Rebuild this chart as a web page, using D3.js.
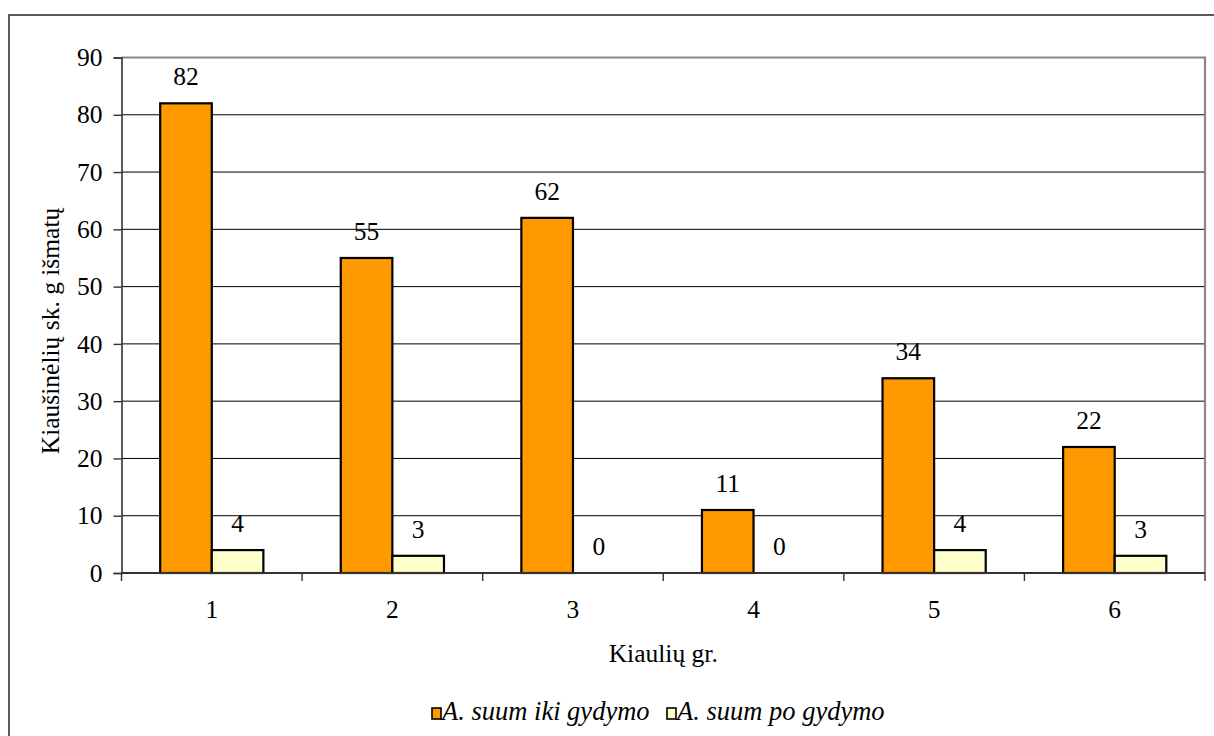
<!DOCTYPE html>
<html>
<head>
<meta charset="utf-8">
<script src="https://cdn.jsdelivr.net/npm/d3@7"></script>
<style>
  html, body { margin: 0; padding: 0; background: #fff; }
</style>
</head>
<body>
<svg id="chart" width="1214" height="736"></svg>
<script>
// Pig groups and A. suum egg counts per gram of faeces
const groups = ["1", "2", "3", "4", "5", "6"];
const beforeTreatment = [82, 55, 62, 11, 34, 22];
const afterTreatment = [4, 3, 0, 0, 4, 3];
const yTicks = [0, 10, 20, 30, 40, 50, 60, 70, 80, 90];
const seriesNames = ["A. suum iki gydymo", "A. suum po gydymo"];
const seriesColors = ["#FF9900", "#FFFFCC"];

const FONT = '"Liberation Serif"';
const FS = 25.5;
const LEGEND_FS = 26.5;

const svg = d3.select("#chart");
const plot = { left: 121.5, top: 57.5, right: 1205, bottom: 573 };

// outer frame
svg.append("rect")
  .attr("x", 9).attr("y", 15)
  .attr("width", 1230).attr("height", 760)
  .attr("fill", "none").attr("stroke", "#333").attr("stroke-width", 1.6);

const x = d3.scaleBand().domain(groups).range([plot.left, plot.right]);
const y = d3.scaleLinear().domain([0, 90]).range([plot.bottom, plot.top]);

// Excel-style 150% gap: each group has two bars and 1.5 bars of gap
const barW = x.bandwidth() / 3.5;

function serif(sel, size = FS) {
  return sel.style("font-family", FONT).style("font-size", size + "px").attr("fill", "#000");
}

// gridlines
svg.append("g").selectAll("line")
  .data(yTicks.filter(t => t > 0 && t < 90))
  .join("line")
  .attr("x1", plot.left).attr("x2", plot.right)
  .attr("y1", d => y(d)).attr("y2", d => y(d))
  .attr("stroke", "#000").attr("stroke-width", 1);

// plot area border: top and right in grey
svg.append("path")
  .attr("d", `M${plot.left},${y(90)}H${plot.right}V${plot.bottom}`)
  .attr("fill", "none").attr("stroke", "#888").attr("stroke-width", 2.2);

// bars with value labels
const data = groups.map((g, i) => ({ g, vals: [beforeTreatment[i], afterTreatment[i]] }));
const gGroups = svg.append("g").selectAll("g")
  .data(data).join("g");

gGroups.each(function (d) {
  const cx = x(d.g) + x.bandwidth() / 2;
  const sel = d3.select(this);
  d.vals.forEach((v, k) => {
    const bx = cx - barW + k * barW;
    if (v > 0) {
      sel.append("rect")
        .attr("x", bx).attr("y", y(v))
        .attr("width", barW).attr("height", y(0) - y(v))
        .attr("fill", seriesColors[k])
        .attr("stroke", "#000").attr("stroke-width", 2.2);
    }
    sel.append("text")
      .attr("x", bx + barW / 2)
      .attr("y", y(v) - 18)
      .attr("text-anchor", "middle")
      .call(serif)
      .text(v);
  });
});

// y axis
const yAxis = svg.append("g")
  .attr("transform", `translate(${plot.left},0)`)
  .call(d3.axisLeft(y).tickValues(yTicks).tickSize(8).tickPadding(11).tickFormat(d3.format("d")));
yAxis.select(".domain").attr("stroke", "#333").attr("stroke-width", 1.6);
yAxis.selectAll(".tick line").attr("stroke", "#333").attr("stroke-width", 1.4);
yAxis.selectAll("text").call(serif);

// x axis with ticks at group boundaries
const xAxis = svg.append("g")
  .attr("transform", `translate(0,${plot.bottom})`);
xAxis.append("line")
  .attr("x1", plot.left).attr("x2", plot.right)
  .attr("stroke", "#333").attr("stroke-width", 1.8);
const bounds = groups.map(g => x(g)).concat([plot.right]);
xAxis.selectAll("line.tk").data(bounds).join("line")
  .attr("class", "tk")
  .attr("x1", d => d).attr("x2", d => d)
  .attr("y1", 0).attr("y2", 8)
  .attr("stroke", "#333").attr("stroke-width", 1.4);
xAxis.selectAll("text").data(groups).join("text")
  .attr("x", d => x(d) + x.bandwidth() / 2)
  .attr("y", 45)
  .attr("text-anchor", "middle")
  .call(serif)
  .text(d => d);

// axis titles
svg.append("text")
  .attr("x", (plot.left + plot.right) / 2)
  .attr("y", 662)
  .attr("text-anchor", "middle")
  .call(serif)
  .text("Kiaulių gr.");

svg.append("text")
  .attr("transform", "translate(59,331) rotate(-90)")
  .attr("text-anchor", "middle")
  .call(serif)
  .text("Kiaušinėlių sk. g išmatų");

// legend
const legend = svg.append("g").attr("transform", "translate(432,708)");
const legendOffsets = [0, 235];
seriesNames.forEach((name, k) => {
  const lg = legend.append("g").attr("transform", `translate(${legendOffsets[k]},0)`);
  lg.append("rect")
    .attr("x", 0).attr("y", 0).attr("width", 9).attr("height", 11)
    .attr("fill", seriesColors[k]).attr("stroke", "#000").attr("stroke-width", 1.6);
  lg.append("text")
    .attr("x", 10).attr("y", 12)
    .call(serif, LEGEND_FS)
    .style("font-style", "italic")
    .text(name);
});
</script>
</body>
</html>
